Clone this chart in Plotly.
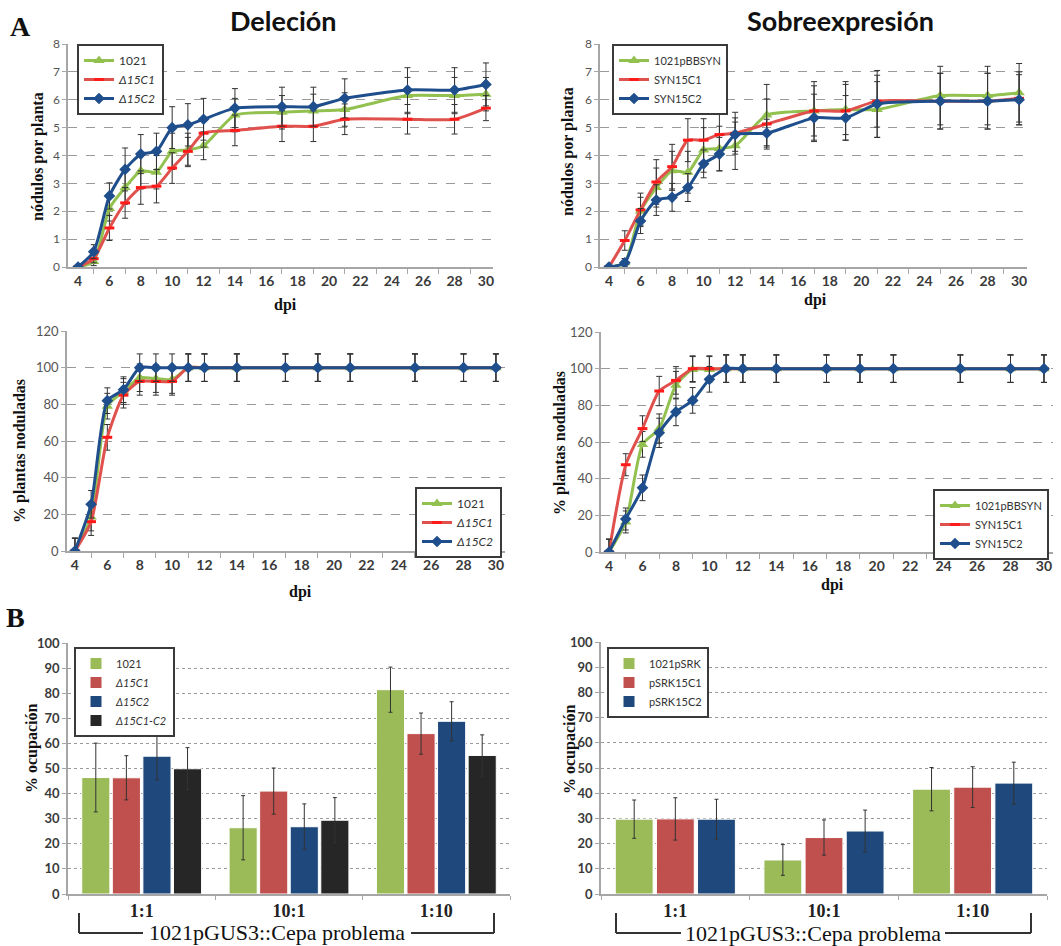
import plotly.graph_objects as go

W, H = 1061, 946

# ---------------- data ----------------
dpi = [4, 5, 6, 7, 8, 9, 10, 11, 12, 14, 17, 19, 21, 25, 28, 30]

# A - Deleción: nódulos por planta
del_nod_1021 = [0, 0.2, 2.1, 2.85, 3.45, 3.4, 4.15, 4.2, 4.35, 5.45, 5.55, 5.6, 5.65, 6.15, 6.15, 6.2]
del_nod_1021_err = [0, 0.15, 0.45, 0.6, 0.65, 0.6, 0.65, 0.6, 0.5, 0.6, 0.6, 0.6, 0.6, 0.65, 0.65, 0.6]
del_nod_c1 = [0, 0.3, 1.4, 2.3, 2.85, 2.9, 3.55, 4.15, 4.8, 4.9, 5.05, 5.05, 5.3, 5.3, 5.3, 5.7]
del_nod_c1_err = [0, 0.15, 0.45, 0.55, 0.6, 0.6, 0.55, 0.5, 0.5, 0.55, 0.55, 0.55, 0.55, 0.53, 0.53, 0.45]
del_nod_c2 = [0, 0.55, 2.55, 3.5, 4.05, 4.15, 5.0, 5.1, 5.3, 5.7, 5.75, 5.75, 6.05, 6.35, 6.35, 6.55]
del_nod_c2_err = [0, 0.25, 0.47, 0.77, 0.7, 0.65, 0.75, 0.76, 0.75, 0.7, 0.7, 0.7, 0.7, 0.8, 0.8, 0.77]

# A - Sobreexpresión: nódulos por planta
ov_nod_1021 = [0, 0.15, 2.0, 2.85, 3.45, 3.4, 4.2, 4.25, 4.35, 5.45, 5.6, 5.65, 5.65, 6.15, 6.15, 6.25]
ov_nod_1021_err = [0, 0.15, 0.5, 0.7, 0.7, 0.75, 0.8, 0.8, 0.85, 1.1, 0.9, 0.9, 1.0, 1.05, 1.05, 1.05]
ov_nod_c1 = [0, 0.95, 2.05, 3.05, 3.6, 4.55, 4.55, 4.75, 4.8, 5.13, 5.6, 5.6, 5.95, 5.95, 5.95, 6.05]
ov_nod_c1_err = [0, 0.35, 0.6, 0.8, 0.8, 0.77, 0.77, 0.75, 0.75, 0.9, 1.05, 1.05, 0.93, 1.0, 1.0, 0.95]
ov_nod_c2 = [0, 0.15, 1.65, 2.4, 2.5, 2.85, 3.7, 4.05, 4.75, 4.8, 5.35, 5.35, 5.85, 5.95, 5.95, 6.0]
ov_nod_c2_err = [0, 0.15, 0.45, 0.55, 0.5, 0.5, 0.5, 0.6, 0.6, 0.5, 0.85, 0.8, 1.2, 1.0, 1.0, 0.9]

# A - Deleción: % plantas noduladas
del_pct_1021 = [0, 18.5, 79, 87, 94.5, 94, 93.5, 100, 100, 100, 100, 100, 100, 100, 100, 100]
del_pct_c1 = [0, 16, 62, 85, 92.5, 92.5, 92.5, 100, 100, 100, 100, 100, 100, 100, 100, 100]
del_pct_c2 = [0, 25.5, 82, 88, 100, 100, 100, 100, 100, 100, 100, 100, 100, 100, 100, 100]
del_pct_err = [7, 7.5, 7, 7, 7.5, 7.5, 7.5, 7.5, 7.5, 7.5, 7.5, 7.5, 7.5, 7.5, 7.5, 7.5]

# A - Sobreexpresión: % plantas noduladas
ov_pct_1021 = [0, 16.4, 58.7, 67.3, 91, 99.6, 99.6, 100, 100, 100, 100, 100, 100, 100, 100, 100]
ov_pct_c1 = [0, 47.6, 67.3, 87.8, 93.6, 100, 100, 100, 100, 100, 100, 100, 100, 100, 100, 100]
ov_pct_c2 = [0, 18, 35, 65, 76.4, 82.7, 94.2, 100, 100, 100, 100, 100, 100, 100, 100, 100]
ov_pct_err = [7, 6, 7, 8, 7.5, 7, 7, 7.5, 7.5, 7.5, 7.5, 7.5, 7.5, 7.5, 7.5, 7.5]

# B - % ocupación
ratios = ["1:1", "10:1", "1:10"]
occ_del_1021 = [46.4, 26.4, 81.4]
occ_del_1021_err = [13.7, 12.8, 9.0]
occ_del_c1 = [46.3, 41.0, 63.9]
occ_del_c1_err = [8.8, 9.2, 8.2]
occ_del_c2 = [54.9, 26.8, 68.8]
occ_del_c2_err = [9.4, 9.1, 7.8]
occ_del_c1c2 = [49.9, 29.4, 55.2]
occ_del_c1c2_err = [8.4, 9.0, 8.2]

occ_ov_1021 = [29.7, 13.5, 41.6]
occ_ov_1021_err = [7.6, 6.1, 8.6]
occ_ov_c1 = [29.8, 22.4, 42.4]
occ_ov_c1_err = [8.4, 7.0, 8.1]
occ_ov_c2 = [29.7, 25.0, 44.0]
occ_ov_c2_err = [7.9, 8.3, 8.3]

xtick_vals = list(range(4, 31, 2))

# ---------------- style ----------------
GREEN_L, RED_L, BLUE_L = "#92c150", "#e0504c", "#1f4e8c"
GREEN_B, RED_B, BLUE_B, BLACK_B = "#9bbb59", "#c0504d", "#1f497d", "#262626"
SERIF = "Liberation Serif"
SANS = "Lato"


def px(x):
    return x / W


def py(y):
    return 1 - y / H


fig = go.Figure()


def line_trace(k, y, err, name, kind):
    ax = "" if k == 1 else str(k)
    if kind == "g":
        marker = dict(symbol="triangle-up", size=10, color=GREEN_L)
        color = GREEN_L
    elif kind == "r":
        marker = dict(symbol="line-ew", size=7, color=RED_L, line=dict(color="#ff1a1a", width=3))
        color = RED_L
    else:
        marker = dict(symbol="diamond", size=9, color=BLUE_L)
        color = BLUE_L
    fig.add_trace(go.Scatter(
        x=dpi, y=y, name=name, mode="lines+markers",
        line=dict(color=color, width=3, shape="spline", smoothing=0.6),
        marker=marker,
        error_y=dict(type="data", array=err, color="#333333", thickness=1, width=3),
        xaxis="x" + ax, yaxis="y" + ax, legend="legend" + ax,
    ))


line_trace(1, del_nod_1021, del_nod_1021_err, "1021", "g")
line_trace(1, del_nod_c1, del_nod_c1_err, "<i>Δ15C1</i>", "r")
line_trace(1, del_nod_c2, del_nod_c2_err, "<i>Δ15C2</i>", "b")

line_trace(2, ov_nod_1021, ov_nod_1021_err, "1021pBBSYN", "g")
line_trace(2, ov_nod_c1, ov_nod_c1_err, "SYN15C1", "r")
line_trace(2, ov_nod_c2, ov_nod_c2_err, "SYN15C2", "b")

line_trace(3, del_pct_1021, del_pct_err, "1021", "g")
line_trace(3, del_pct_c1, del_pct_err, "<i>Δ15C1</i>", "r")
line_trace(3, del_pct_c2, del_pct_err, "<i>Δ15C2</i>", "b")

line_trace(4, ov_pct_1021, ov_pct_err, "1021pBBSYN", "g")
line_trace(4, ov_pct_c1, ov_pct_err, "SYN15C1", "r")
line_trace(4, ov_pct_c2, ov_pct_err, "SYN15C2", "b")


def bar_trace(k, y, err, name, color):
    ax = str(k)
    fig.add_trace(go.Bar(
        x=ratios, y=y, name=name,
        marker=dict(color=color, line=dict(color="white", width=1)),
        error_y=dict(type="data", array=err, color="#333333", thickness=1, width=2),
        xaxis="x" + ax, yaxis="y" + ax, legend="legend" + ax,
    ))


bar_trace(5, occ_del_1021, occ_del_1021_err, "1021", GREEN_B)
bar_trace(5, occ_del_c1, occ_del_c1_err, "<i>Δ15C1</i>", RED_B)
bar_trace(5, occ_del_c2, occ_del_c2_err, "<i>Δ15C2</i>", BLUE_B)
bar_trace(5, occ_del_c1c2, occ_del_c1c2_err, "<i>Δ15C1-C2</i>", BLACK_B)

bar_trace(6, occ_ov_1021, occ_ov_1021_err, "1021pSRK", GREEN_B)
bar_trace(6, occ_ov_c1, occ_ov_c1_err, "pSRK15C1", RED_B)
bar_trace(6, occ_ov_c2, occ_ov_c2_err, "pSRK15C2", BLUE_B)


# ---------------- axes ----------------
def x_line_axis(x0, x1, rng, anchor):
    return dict(
        domain=[px(x0), px(x1)], range=rng, anchor=anchor, automargin=False,
        tickmode="array", tickvals=xtick_vals,
        showline=True, linecolor="#a6a6a6", linewidth=1.5,
        ticks="", showgrid=False, zeroline=False,
        tickfont=dict(family=SANS, size=14, color="#3a3a3a", weight="bold"),
        minor=dict(tickmode="array", tickvals=list(range(5, 30, 2)), ticks="outside",
                   ticklen=5, tickcolor="#a6a6a6", showgrid=False),
    )


def y_axis(y0, y1, rng, dtick, anchor, bold=False, dash="dash", size=12):
    return dict(
        domain=[py(y1), py(y0)], range=rng, dtick=dtick, anchor=anchor, automargin=False,
        showline=True, linecolor="#a6a6a6", linewidth=1.5,
        ticks="outside", ticklen=4, tickcolor="#a6a6a6",
        showgrid=True, gridcolor="#9a9a9a", griddash=dash, gridwidth=1,
        zeroline=False,
        tickfont=dict(family=SANS, size=size, color="#3a3a3a" if bold else "#555555",
                      weight="bold" if bold else "normal"),
    )


def x_bar_axis(x0, x1, anchor):
    return dict(
        domain=[px(x0), px(x1)], anchor=anchor, type="category", automargin=False,
        showline=True, linecolor="#a6a6a6", linewidth=1.5,
        ticks="outside", tickson="boundaries", ticklen=4, tickcolor="#a6a6a6",
        showgrid=False, zeroline=False,
        tickfont=dict(family=SERIF, size=18, color="#222222", weight="bold"),
    )


layout = dict(
    width=W, height=H,
    margin=dict(l=0, r=0, t=0, b=0, autoexpand=False),
    paper_bgcolor="white", plot_bgcolor="white",
    barmode="group", bargap=0.17, bargroupgap=0.08,
    showlegend=True,
    xaxis=x_line_axis(68, 493, [3.36, 30.45], "y"),
    yaxis=y_axis(44, 267, [0, 8], 1, "x"),
    xaxis2=x_line_axis(600, 1027, [3.43, 30.5], "y2"),
    yaxis2=y_axis(44, 267, [0, 8], 1, "x2"),
    xaxis3=x_line_axis(67, 505, [3.51, 30.56], "y3"),
    yaxis3=y_axis(331, 551, [0, 120], 20, "x3", size=13),
    xaxis4=x_line_axis(601, 1053, [3.52, 30.54], "y4"),
    yaxis4=y_axis(332, 552, [0, 120], 20, "x4", size=13),
    xaxis5=x_bar_axis(68, 510, "y5"),
    yaxis5=y_axis(643, 894, [0, 100], 10, "x5", bold=True, dash="dot", size=13),
    xaxis6=x_bar_axis(601, 1047, "y6"),
    yaxis6=y_axis(642, 894, [0, 100], 10, "x6", bold=True, dash="dot", size=13),
)


def legend(x, y, size=12, xanchor="left"):
    return dict(
        x=px(x), y=py(y), xanchor=xanchor, yanchor="top",
        bgcolor="white", bordercolor="#3a3a3a", borderwidth=2,
        font=dict(family=SANS, size=size, color="#333333"),
        itemwidth=30, tracegroupgap=0,
    )


layout["legend"] = legend(77, 44)
layout["legend2"] = legend(612, 44, size=11)
layout["legend3"] = legend(502, 487, xanchor="right")
layout["legend4"] = legend(1049, 489, size=11, xanchor="right")
layout["legend5"] = legend(74, 647, size=11)
layout["legend6"] = legend(607, 647, size=11)

fig.update_layout(**layout)

# ---------------- annotations ----------------
ann = []


def text(x, y, s, size, family, bold=True, angle=0, color="#111111"):
    ann.append(dict(
        x=px(x), y=py(y), xref="paper", yref="paper", text=s, showarrow=False,
        xanchor="center", yanchor="middle", textangle=angle,
        font=dict(family=family, size=size, color=color, weight="bold" if bold else "normal"),
    ))


text(20, 27, "A", 28, SERIF)
text(15, 617, "B", 28, SERIF)
text(283, 20, "Deleción", 27, SANS)
text(840, 20, "Sobreexpresión", 27, SANS)

text(38, 157, "nódulos por planta", 16, SERIF, angle=-90)
text(568, 152, "nódulos por planta", 16, SERIF, angle=-90)
text(20, 451, "% plantas noduladas", 16, SERIF, angle=-90)
text(560, 443, "% plantas noduladas", 16, SERIF, angle=-90)
text(32, 749, "% ocupación", 16, SERIF, angle=-90)
text(570, 750, "% ocupación", 16, SERIF, angle=-90)

text(285, 305, "dpi", 16, SERIF)
text(815, 300, "dpi", 16, SERIF)
text(300, 592, "dpi", 16, SERIF)
text(832, 585, "dpi", 16, SERIF)

text(277, 932, "1021pGUS3::Cepa problema", 22, SERIF, bold=False)
text(813, 933, "1021pGUS3::Cepa problema", 22, SERIF, bold=False)

fig.update_layout(annotations=ann)

# brackets
shapes = []


def bracket(x0, xa, xb, x1, ytop, ybot):
    for (a, b) in [((x0, ytop), (x0, ybot)), ((x0, ybot), (xa, ybot)),
                   ((xb, ybot), (x1, ybot)), ((x1, ybot), (x1, ytop))]:
        shapes.append(dict(type="line", xref="paper", yref="paper",
                           x0=px(a[0]), y0=py(a[1]), x1=px(b[0]), y1=py(b[1]),
                           line=dict(color="#333333", width=2)))


bracket(79, 143, 411, 494, 913, 933)
bracket(616, 681, 945, 1031, 913, 933)
fig.update_layout(shapes=shapes)

# the page body gets no margin so the figure sits at the window's top-left corner
fig.write_html("out.html",
               config={"displayModeBar": False},
               post_script="document.body.style.margin='0';document.body.style.overflow='hidden';")
